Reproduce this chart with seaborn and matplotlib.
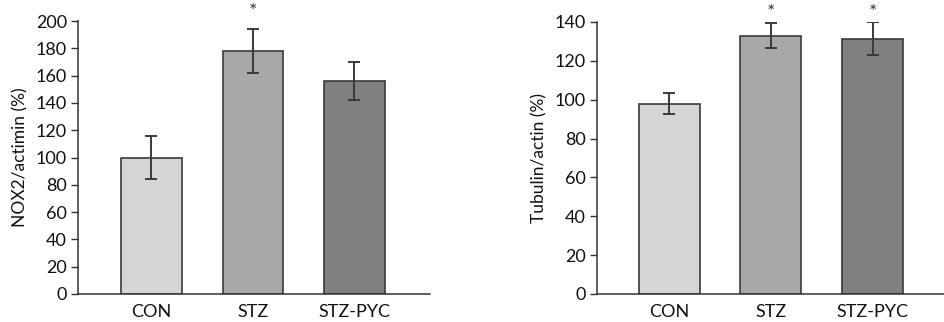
import matplotlib
matplotlib.use("Agg")
import matplotlib.pyplot as plt
import matplotlib.transforms as mtransforms
import seaborn as sns
import numpy as np

groups = ["CON", "STZ", "STZ-PYC"]

nox2_mean = [100, 178, 156]
nox2_err = [16, 16, 14]
nox2_sig = [False, True, False]

tub_mean = [98, 133, 131.5]
tub_err = [5.5, 6.5, 8.5]
tub_sig = [False, True, True]

bar_colors = ["#d4d5d7", "#a7a8ab", "#7f8084"]
edge = "#3a3a3a"

sns.set_theme(style="ticks")
plt.rcParams["font.family"] = ["Lato", "DejaVu Sans"]

fig = plt.figure(figsize=(9.44, 3.22), dpi=100)
ax1 = fig.add_axes([78 / 944, 28 / 322, 352 / 944, 273 / 322])
ax2 = fig.add_axes([597 / 944, 28 / 322, 347 / 944, 272 / 322])


def panel(ax, means, errs, sig, ylabel, ymax, xlim):
    sns.barplot(x=groups, y=means, hue=groups, palette=bar_colors, legend=False,
                width=0.6, edgecolor=edge, linewidth=1.2, ax=ax, zorder=2)
    ax.errorbar(np.arange(len(groups)), means, yerr=errs, fmt="none",
                ecolor=edge, elinewidth=1.4, capsize=4, capthick=1.4, zorder=3)
    trans = mtransforms.blended_transform_factory(ax.transData, ax.transAxes)
    for i, s in enumerate(sig):
        if s:
            ax.text(i, 1.035, "*", transform=trans, ha="center", va="center",
                    fontsize=14, color="#333333", clip_on=False)
    ax.set_ylim(0, ymax)
    ax.set_xlim(*xlim)
    ax.set_yticks(np.arange(0, ymax + 1, 20))
    ax.set_ylabel(ylabel, fontsize=12.5, color="#111111", labelpad=5)
    ax.set_xlabel("")
    ax.tick_params(axis="y", length=5, width=1, colors="#333333", labelsize=13,
                   labelcolor="#111111", pad=3)
    ax.tick_params(axis="x", length=0, labelsize=13, labelcolor="#111111", pad=7)
    for sp in ("top", "right"):
        ax.spines[sp].set_visible(False)
    for sp in ("left", "bottom"):
        ax.spines[sp].set_color("#333333")
        ax.spines[sp].set_linewidth(1.1)


panel(ax1, nox2_mean, nox2_err, nox2_sig, "NOX2/actimin (%)", 200, (-0.724, 2.744))
panel(ax2, tub_mean, tub_err, tub_sig, "Tubulin/actin (%)", 140, (-0.708, 2.70))

fig.savefig("out.png", dpi=100)
